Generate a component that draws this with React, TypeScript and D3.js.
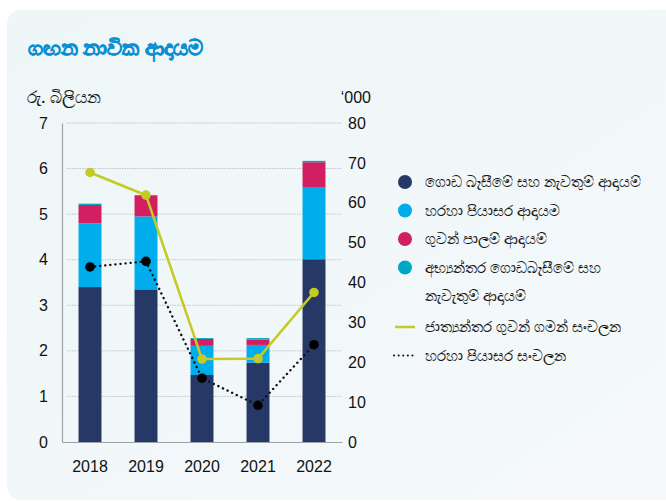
import React, { useEffect, useRef } from "react";
import * as d3 from "d3";

// data
const years = ["2018", "2019", "2020", "2021", "2022"];
const cargoHandling = [3.4, 3.35, 1.47, 1.74, 4.01];
const passengerService = [1.4, 1.6, 0.64, 0.39, 1.57];
const airTicket = [0.4, 0.45, 0.15, 0.12, 0.56];
const domesticCargo = [0.03, 0.02, 0.02, 0.03, 0.03];
const flightMovements = [67.6, 61.9, 20.8, 20.9, 37.5];
const passengerMovements = [43.9, 45.3, 16.0, 9.2, 24.4];

const leftTicks = [0, 1, 2, 3, 4, 5, 6, 7];
const rightTicks = [0, 10, 20, 30, 40, 50, 60, 70, 80];

const seriesKeys = ["cargo", "passenger", "ticket", "domestic"];
const seriesColors: { [k: string]: string } = {
    cargo: "#263865",
    passenger: "#00adec",
    ticket: "#d21f62",
    domestic: "#00a7c3",
};

const legendItems = [
    { type: "dot", color: "#263865", lines: ["ගොඩ බෑසීමේ සහ නැවතුම් ආදායම්"] },
    { type: "dot", color: "#00adec", lines: ["හරහා පියාසර ආදායම"] },
    { type: "dot", color: "#d21f62", lines: ["ගුවන් පාලම් ආදායම්"] },
    { type: "dot", color: "#00a7c3", lines: ["අභ්‍යන්තර ගොඩබෑසීමේ සහ", "නැවැතුම් ආදායම්"] },
    { type: "line", color: "#c4ca26", lines: ["ජාත්‍යන්තර ගුවන් ගමන් සංචලන"] },
    { type: "dotted", color: "#111", lines: ["හරහා පියාසර සංචලන"] },
];

const numFont = "'Liberation Sans', Arial, sans-serif";

const App: React.FC = () => {
    const svgRef = useRef<SVGSVGElement | null>(null);

    useEffect(() => {
        if (!svgRef.current) return;
        const svg = d3.select(svgRef.current);
        svg.selectAll("*").remove();

        // card background
        const defs = svg.append("defs");
        const grad = defs.append("linearGradient")
            .attr("id", "cardBg")
            .attr("x1", "0").attr("y1", "0").attr("x2", "1").attr("y2", "1");
        grad.append("stop").attr("offset", "0%").attr("stop-color", "#eef6f8");
        grad.append("stop").attr("offset", "100%").attr("stop-color", "#f5f9fa");

        svg.append("rect")
            .attr("x", 7).attr("y", 10)
            .attr("width", 720).attr("height", 490)
            .attr("rx", 14)
            .attr("fill", "url(#cardBg)");

        // title
        svg.append("text")
            .attr("x", 28).attr("y", 55)
            .attr("font-size", 21)
            .attr("font-weight", "bold")
            .attr("fill", "#0b8fd3")
            .attr("stroke", "#0b8fd3")
            .attr("stroke-width", 0.7)
            .text("ගඟන නාවික ආදායම");

        svg.append("text")
            .attr("x", 27).attr("y", 103)
            .attr("font-size", 17)
            .attr("fill", "#111")
            .attr("stroke", "#111")
            .attr("stroke-width", 0.2)
            .text("රු. බිලියන");

        svg.append("text")
            .attr("x", 371).attr("y", 103)
            .attr("text-anchor", "end")
            .attr("font-size", 16)
            .attr("font-family", numFont)
            .attr("fill", "#111")
            .text("‘000");

        const x0 = 62, x1 = 342, yTop = 123, yBottom = 442;

        const x = d3.scaleBand<string>()
            .domain(years)
            .range([x0, x1])
            .paddingInner(0.59)
            .paddingOuter(0.295);

        const yL = d3.scaleLinear().domain([0, 7]).range([yBottom, yTop]);
        const yR = d3.scaleLinear().domain([0, 80]).range([yBottom, yTop]);

        // gridlines
        svg.append("g")
            .selectAll("line")
            .data(leftTicks.slice(1))
            .join("line")
            .attr("x1", x0 + 5).attr("x2", x1)
            .attr("y1", (d) => yL(d)).attr("y2", (d) => yL(d))
            .attr("stroke", "#b5b9bc")
            .attr("stroke-width", 0.8)
            .attr("stroke-dasharray", "1.5,1");

        // left axis
        const leftAxis = svg.append("g")
            .attr("transform", `translate(${x0},0)`)
            .call(d3.axisLeft(yL).tickValues(leftTicks).tickSize(0).tickPadding(14).tickFormat(d3.format("d")));
        leftAxis.select(".domain").attr("stroke", "#9ea3a6").attr("stroke-width", 1.2);
        leftAxis.selectAll("text")
            .attr("font-size", 16)
            .attr("font-family", numFont)
            .attr("fill", "#111");

        // right axis labels
        const rightAxis = svg.append("g")
            .attr("transform", `translate(${x1},0)`)
            .call(d3.axisRight(yR).tickValues(rightTicks).tickSize(0).tickPadding(6).tickFormat(d3.format("d")));
        rightAxis.select(".domain").remove();
        rightAxis.selectAll("text")
            .attr("font-size", 16)
            .attr("font-family", numFont)
            .attr("fill", "#111");

        // bottom axis
        const bottomAxis = svg.append("g")
            .attr("transform", `translate(0,${yBottom})`)
            .call(d3.axisBottom(x).tickSize(0).tickPadding(19));
        bottomAxis.select(".domain").attr("stroke", "#9ea3a6").attr("stroke-width", 1.2);
        bottomAxis.selectAll("text")
            .attr("font-size", 16)
            .attr("font-family", numFont)
            .attr("fill", "#111");

        // stacked bars
        const table = years.map((yr, i) => ({
            year: yr,
            cargo: cargoHandling[i],
            passenger: passengerService[i],
            ticket: airTicket[i],
            domestic: domesticCargo[i],
        }));
        const stack = d3.stack<any>().keys(seriesKeys)(table);

        svg.append("g")
            .selectAll("g")
            .data(stack)
            .join("g")
            .attr("fill", (s) => seriesColors[s.key])
            .selectAll("rect")
            .data((s) => s)
            .join("rect")
            .attr("x", (d) => x(d.data.year) as number)
            .attr("width", x.bandwidth())
            .attr("y", (d) => yL(d[1]))
            .attr("height", (d) => yL(d[0]) - yL(d[1]));

        const cx = (i: number) => (x(years[i]) as number) + x.bandwidth() / 2;

        // passenger movements, dotted
        const dotLine = d3.line<number>().x((_, i) => cx(i)).y((d) => yR(d));
        svg.append("path")
            .datum(passengerMovements)
            .attr("fill", "none")
            .attr("stroke", "#111")
            .attr("stroke-width", 2.4)
            .attr("stroke-linecap", "round")
            .attr("stroke-dasharray", "0.1,5")
            .attr("d", dotLine);
        svg.append("g")
            .selectAll("circle")
            .data(passengerMovements)
            .join("circle")
            .attr("cx", (_, i) => cx(i))
            .attr("cy", (d) => yR(d))
            .attr("r", 4.8)
            .attr("fill", "#000");

        // flight movements, solid green
        const greenLine = d3.line<number>().x((_, i) => cx(i)).y((d) => yR(d));
        svg.append("path")
            .datum(flightMovements)
            .attr("fill", "none")
            .attr("stroke", "#c4ca26")
            .attr("stroke-width", 2.6)
            .attr("d", greenLine);
        svg.append("g")
            .selectAll("circle")
            .data(flightMovements)
            .join("circle")
            .attr("cx", (_, i) => cx(i))
            .attr("cy", (d) => yR(d))
            .attr("r", 4.8)
            .attr("fill", "#c4ca26");

        // legend
        const legend = svg.append("g");
        let ly = 182;
        legendItems.forEach((item) => {
            const g = legend.append("g");
            if (item.type === "dot") {
                g.append("circle").attr("cx", 405).attr("cy", ly).attr("r", 7).attr("fill", item.color);
            } else if (item.type === "line") {
                g.append("line")
                    .attr("x1", 395).attr("x2", 415)
                    .attr("y1", ly).attr("y2", ly)
                    .attr("stroke", item.color).attr("stroke-width", 2.5);
            } else {
                g.append("line")
                    .attr("x1", 394).attr("x2", 417)
                    .attr("y1", ly).attr("y2", ly)
                    .attr("stroke", item.color).attr("stroke-width", 2)
                    .attr("stroke-linecap", "round")
                    .attr("stroke-dasharray", "0.1,4.5");
            }
            item.lines.forEach((t, j) => {
                g.append("text")
                    .attr("x", 425)
                    .attr("y", ly + j * 28.5)
                    .attr("dy", "0.35em")
                    .attr("font-size", 15)
                    .attr("fill", "#111")
                    .attr("stroke", "#111")
                    .attr("stroke-width", 0.15)
                    .text(t);
            });
            ly += item.lines.length * 28.5 + (item.lines.length > 1 ? 2.5 : 0);
        });
    }, []);

    return (
        <svg
            ref={svgRef}
            width={666}
            height={501}
            style={{ position: "absolute", left: 0, top: 0, fontFamily: "'Noto Sans', sans-serif" }}
        ></svg>
    );
};

export default App;
